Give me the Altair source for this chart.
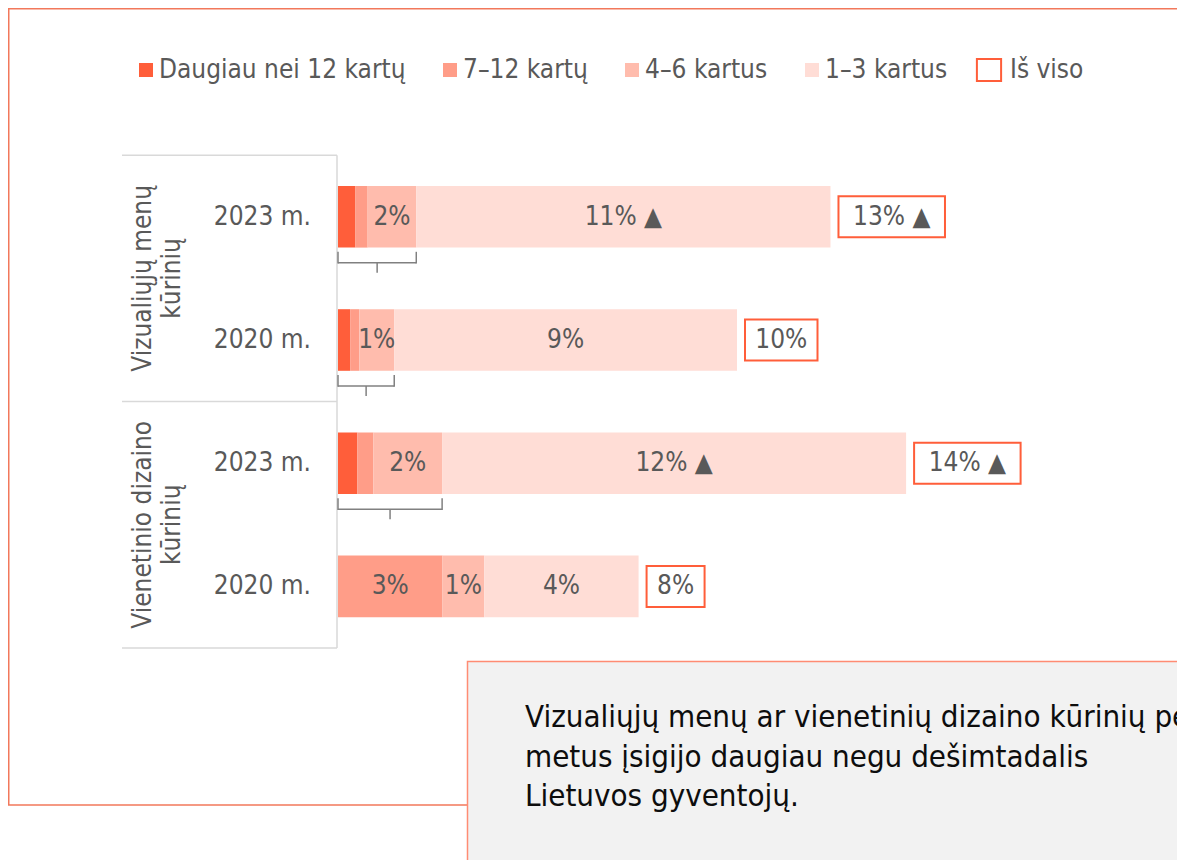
import altair as alt
import pandas as pd

# ---------------- data ----------------
group_labels = ["Vizualiųjų menų\nkūrinių", "Vienetinio dizaino\nkūrinių"]
row_group = [0, 0, 1, 1]
years = ["2023 m.", "2020 m.", "2023 m.", "2020 m."]

series = ["Daugiau nei 12 kartų", "7–12 kartų", "4–6 kartus", "1–3 kartus"]
colors = ["#FF5E3A", "#FF9D88", "#FFBCAD", "#FFDDD6"]

v_12plus = [0.46, 0.32, 0.51, 0.00]
v_7_12 = [0.32, 0.24, 0.42, 2.75]
v_4_6 = [1.28, 0.92, 1.81, 1.10]
v_1_3 = [10.90, 9.02, 12.21, 4.06]

lbl_12plus = ["", "", "", ""]
lbl_7_12 = ["", "", "", "3%"]
lbl_4_6 = ["2%", "1%", "2%", "1%"]
lbl_1_3 = ["11% ▲", "9%", "12% ▲", "4%"]

total_labels = ["13% ▲", "10%", "14% ▲", "8%"]
bracket_rows = [True, True, True, False]

note_text = "Vizualiųjų menų ar vienetinių dizaino kūrinių per\nmetus įsigijo daugiau negu dešimtadalis\nLietuvos gyventojų."

# ---------------- style ----------------
FONT = "DejaVu Sans Condensed, DejaVu Sans, sans-serif"
TXT = "#595959"
W, H = 1169, 852
X0, X1, DMAX = 330, 1166, 22
PX = (X1 - X0) / DMAX
xs = alt.Scale(domain=[0, DMAX], range=[X0, X1], nice=False, zero=False)
ys = alt.Scale(domain=[0, 3], range=[208.8, 578.4], nice=False, zero=False)

values = [v_12plus, v_7_12, v_4_6, v_1_3]
labels = [lbl_12plus, lbl_7_12, lbl_4_6, lbl_1_3]

seg_rows = []
for i in range(len(years)):
    start = 0.0
    for s, vals, labs in zip(series, values, labels):
        v = vals[i]
        if v > 0:
            seg_rows.append(dict(idx=i, series=s, start=start, end=start + v,
                                 mid=start + v / 2, label=labs[i]))
        start += v
seg = pd.DataFrame(seg_rows)


def box_w(lbl):
    base = lbl.replace(" ▲", "")
    return 14.5 * len(base) + 29 + (34 if "▲" in lbl else 0)


tot_rows = []
br_rows = []
for i in range(len(years)):
    total = sum(v[i] for v in values)
    w = box_w(total_labels[i])
    tot_rows.append(dict(idx=i, total=total, box_end=total + (8 + w) / PX,
                         box_mid=total + (8 + w / 2) / PX, label=total_labels[i],
                         kind="Iš viso"))
    if bracket_rows[i]:
        s3 = v_12plus[i] + v_7_12[i] + v_4_6[i]
        br_rows.append(dict(idx=i, zero=0.0, end=s3, mid=s3 / 2))
tot = pd.DataFrame(tot_rows)
br = pd.DataFrame(br_rows)
br_ends = pd.concat([br[["idx", "zero"]].rename(columns={"zero": "pos"}),
                     br[["idx", "end"]].rename(columns={"end": "pos"})])

rows_df = pd.DataFrame({"idx": list(range(len(years))), "year": years})
grp_df = pd.DataFrame({
    "label": group_labels,
    "pos": [sum(i for i, g in enumerate(row_group) if g == k) / row_group.count(k)
            for k in range(len(group_labels))],
})
bounds = sorted({min(i for i, g in enumerate(row_group) if g == k) - 0.5 for k in range(len(group_labels))}
                | {max(i for i, g in enumerate(row_group) if g == k) + 0.5 for k in range(len(group_labels))})
hl_df = pd.DataFrame({"yv": bounds})
vl_df = pd.DataFrame({"top": [min(bounds)], "bottom": [max(bounds)]})
one = pd.DataFrame({"a": [0]})

# ---------------- layers ----------------
frame = alt.Chart(one).mark_rect(fill="transparent", stroke="#F2785B", strokeWidth=1.5).encode(
    x=alt.value(0.75), x2=alt.value(1400), y=alt.value(0.75), y2=alt.value(797))

hlines = alt.Chart(hl_df).mark_rule(color="#D9D9D9", strokeWidth=1.5).encode(
    x=alt.value(114), x2=alt.value(329), y=alt.Y("yv:Q", scale=ys, axis=None))
vline = alt.Chart(vl_df).mark_rule(color="#D9D9D9", strokeWidth=1.5).encode(
    x=alt.value(329), y=alt.Y("top:Q", scale=ys, axis=None), y2="bottom:Q")

bars = alt.Chart(seg).mark_rect(yOffset=-30.8, y2Offset=30.8).encode(
    x=alt.X("start:Q", scale=xs, axis=None), x2="end:Q",
    y=alt.Y("idx:Q", scale=ys, axis=None), y2="idx:Q",
    color=alt.Color("series:N", scale=alt.Scale(domain=series, range=colors),
                    legend=alt.Legend(orient="none", legendX=125, legendY=49, direction="horizontal",
                                      title=None, symbolType="square", symbolSize=196, padding=0,
                                      symbolStrokeWidth=0, labelFont=FONT, labelFontSize=26,
                                      labelColor=TXT, labelOffset=0, columnPadding=31,
                                      labelLimit=400)))

seg_text = alt.Chart(seg).mark_text(font=FONT, fontSize=26, color=TXT, baseline="middle").encode(
    x=alt.X("mid:Q", scale=xs, axis=None), y=alt.Y("idx:Q", scale=ys, axis=None), text="label:N")

br_h = alt.Chart(br).mark_rule(color="#808080", strokeWidth=1.5, yOffset=46).encode(
    x=alt.X("zero:Q", scale=xs, axis=None), x2="end:Q", y=alt.Y("idx:Q", scale=ys, axis=None))
br_v = alt.Chart(br_ends).mark_rule(color="#808080", strokeWidth=1.5, yOffset=35, y2Offset=46.7).encode(
    x=alt.X("pos:Q", scale=xs, axis=None), y=alt.Y("idx:Q", scale=ys, axis=None), y2="idx:Q")
br_t = alt.Chart(br).mark_rule(color="#808080", strokeWidth=1.5, yOffset=46, y2Offset=56).encode(
    x=alt.X("mid:Q", scale=xs, axis=None), y=alt.Y("idx:Q", scale=ys, axis=None), y2="idx:Q")

boxes = alt.Chart(tot).mark_rect(fill="white", strokeWidth=2, xOffset=8,
                                 yOffset=-20.5, y2Offset=20.5).encode(
    x=alt.X("total:Q", scale=xs, axis=None), x2="box_end:Q",
    y=alt.Y("idx:Q", scale=ys, axis=None), y2="idx:Q",
    stroke=alt.Stroke("kind:N", scale=alt.Scale(domain=["Iš viso"], range=["#FF5E3A"]),
                      legend=alt.Legend(orient="none", legendX=968, legendY=49, title=None,
                                        symbolType="M-1.1,-1H1.1V1H-1.1Z", symbolSize=484,
                                        symbolFillColor="white", symbolStrokeWidth=2, padding=0,
                                        labelFont=FONT, labelFontSize=26, labelColor=TXT,
                                        labelOffset=8)))
tot_text = alt.Chart(tot).mark_text(font=FONT, fontSize=26, color=TXT, baseline="middle").encode(
    x=alt.X("box_mid:Q", scale=xs, axis=None), y=alt.Y("idx:Q", scale=ys, axis=None), text="label:N")

year_text = alt.Chart(rows_df).mark_text(font=FONT, fontSize=26, color=TXT, align="right",
                                         baseline="middle").encode(
    x=alt.value(303), y=alt.Y("idx:Q", scale=ys, axis=None), text="year:N")

grp_text = alt.Chart(grp_df).mark_text(font=FONT, fontSize=26, color=TXT, angle=270, align="center",
                                       baseline="middle", lineBreak="\n", lineHeight=29).encode(
    x=alt.value(135), y=alt.Y("pos:Q", scale=ys, axis=None), text="label:N")

note_box = alt.Chart(one).mark_rect(fill="#F2F2F2", stroke="#FF8C73", strokeWidth=1.5).encode(
    x=alt.value(459.5), x2=alt.value(1400), y=alt.value(653.5), y2=alt.value(1000))
note = alt.Chart(pd.DataFrame({"t": [note_text]})).mark_text(
    font=FONT, fontSize=31, color="#0D0D0D", align="left", baseline="middle",
    lineBreak="\n", lineHeight=39.5).encode(x=alt.value(517), y=alt.value(710), text="t:N")

chart = alt.layer(frame, hlines, vline, bars, seg_text, br_h, br_v, br_t, boxes, tot_text,
                  year_text, grp_text, note_box, note).properties(
    width=W, height=H, padding=0, autosize=alt.AutoSizeParams(type="none"),
    background="white"
).configure_view(strokeWidth=0)

chart.save("out.html", embed_options={"renderer": "svg", "actions": False})
